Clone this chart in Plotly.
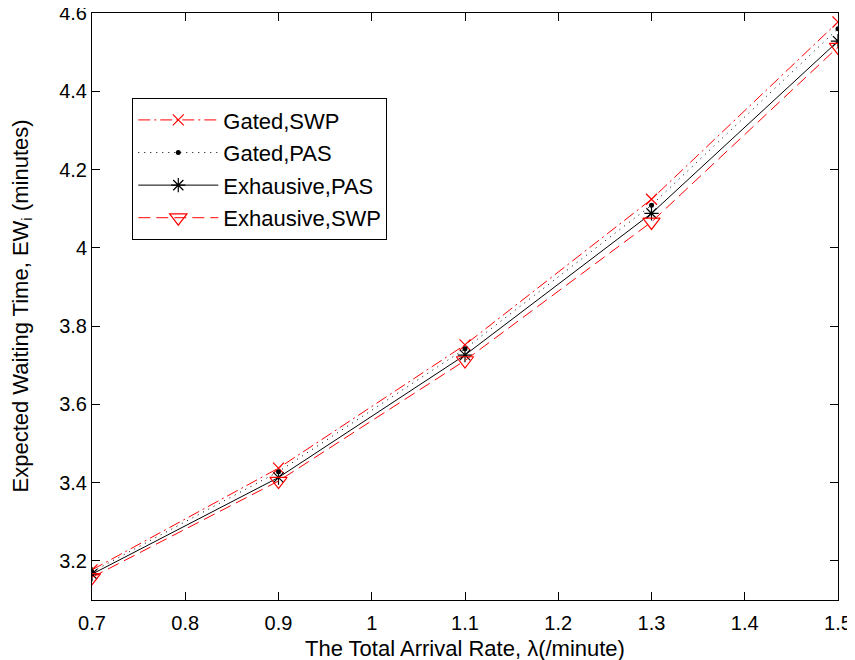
import plotly.graph_objects as go

# arrival rate (x axis)
rate = [0.7, 0.9, 1.1, 1.3, 1.5]

# expected waiting time per scheme
gated_swp = [3.177, 3.437, 3.752, 4.124, 4.577]
gated_pas = [3.172, 3.428, 3.742, 4.109, 4.560]
exh_pas = [3.166, 3.413, 3.726, 4.088, 4.528]
exh_swp = [3.158, 3.404, 3.712, 4.066, 4.513]

x_ticks = [0.7, 0.8, 0.9, 1.0, 1.1, 1.2, 1.3, 1.4, 1.5]
x_labels = ["0.7", "0.8", "0.9", "1", "1.1", "1.2", "1.3", "1.4", "1.5"]
y_ticks = [3.2, 3.4, 3.6, 3.8, 4.0, 4.2, 4.4, 4.6]
y_labels = ["3.2", "3.4", "3.6", "3.8", "4", "4.2", "4.4", "4.6"]

RED = "rgb(255,0,0)"
BLACK = "rgb(0,0,0)"

fig = go.Figure()

fig.add_trace(go.Scatter(
    x=rate, y=gated_swp, name="Gated,SWP", legendgroup="a",
    mode="lines+markers",
    line=dict(color=RED, width=1, dash="12px,4px,2px,4px"),
    marker=dict(symbol="x-thin-open", size=11, line=dict(color=RED, width=1.2), color=RED),
))
fig.add_trace(go.Scatter(
    x=rate, y=gated_pas, name="Gated,PAS", legendgroup="b",
    mode="lines+markers",
    line=dict(color=BLACK, width=1, dash="1px,5px"),
    marker=dict(symbol="circle", size=5, color=BLACK),
))
fig.add_trace(go.Scatter(
    x=rate, y=exh_pas, name="Exhausive,PAS", legendgroup="c",
    mode="lines+markers",
    line=dict(color=BLACK, width=1),
    marker=dict(symbol="asterisk-open", size=12, line=dict(color=BLACK, width=1.2)),
))
fig.add_trace(go.Scatter(
    x=rate, y=exh_swp, name="Exhausive,SWP", legendgroup="d",
    mode="lines+markers",
    line=dict(color=RED, width=1, dash="12px,6px"),
    marker=dict(symbol="triangle-down-open", size=15, line=dict(color=RED, width=1.2)),
))

axis_common = dict(
    showgrid=False, zeroline=False, automargin=False,
    showline=True, linecolor=BLACK, linewidth=1, mirror="ticks",
    ticks="inside", ticklen=8, tickcolor=BLACK, tickwidth=1,
    tickfont=dict(size=20, color=BLACK), ticklabeloverflow="allow",
)

# the page body adds an 8px margin, so the figure is a bit smaller
fig.update_layout(
    width=847, height=652,
    margin=dict(l=84, r=17, t=5, b=60),
    paper_bgcolor="white", plot_bgcolor="white",
    font=dict(family="Liberation Sans, Arial, sans-serif", size=20, color=BLACK),
    xaxis=dict(range=[0.7, 1.5], tickvals=x_ticks, ticktext=x_labels,
               ticklabelstandoff=5, **axis_common),
    yaxis=dict(range=[3.1, 4.6], tickvals=y_ticks, ticktext=y_labels,
               **axis_common),
    legend=dict(
        x=0.054, y=0.855, xanchor="left", yanchor="top",
        bgcolor="white", bordercolor=BLACK, borderwidth=1,
        font=dict(size=22, color=BLACK),
        tracegroupgap=1, itemwidth=80,
    ),
    showlegend=True,
)

fig.add_annotation(
    text="The Total Arrival Rate, λ(/minute)", xref="paper", yref="paper",
    x=0.5, y=0, yshift=-48, xanchor="center", yanchor="middle",
    showarrow=False, font=dict(size=22),
)
fig.add_annotation(
    text="Expected Waiting Time, EW<sub>i</sub> (minutes)", xref="paper", yref="paper",
    x=0, y=0.5, xshift=-71, xanchor="center", yanchor="middle", textangle=-90,
    showarrow=False, font=dict(size=22),
)

fig.write_html("out.html")
